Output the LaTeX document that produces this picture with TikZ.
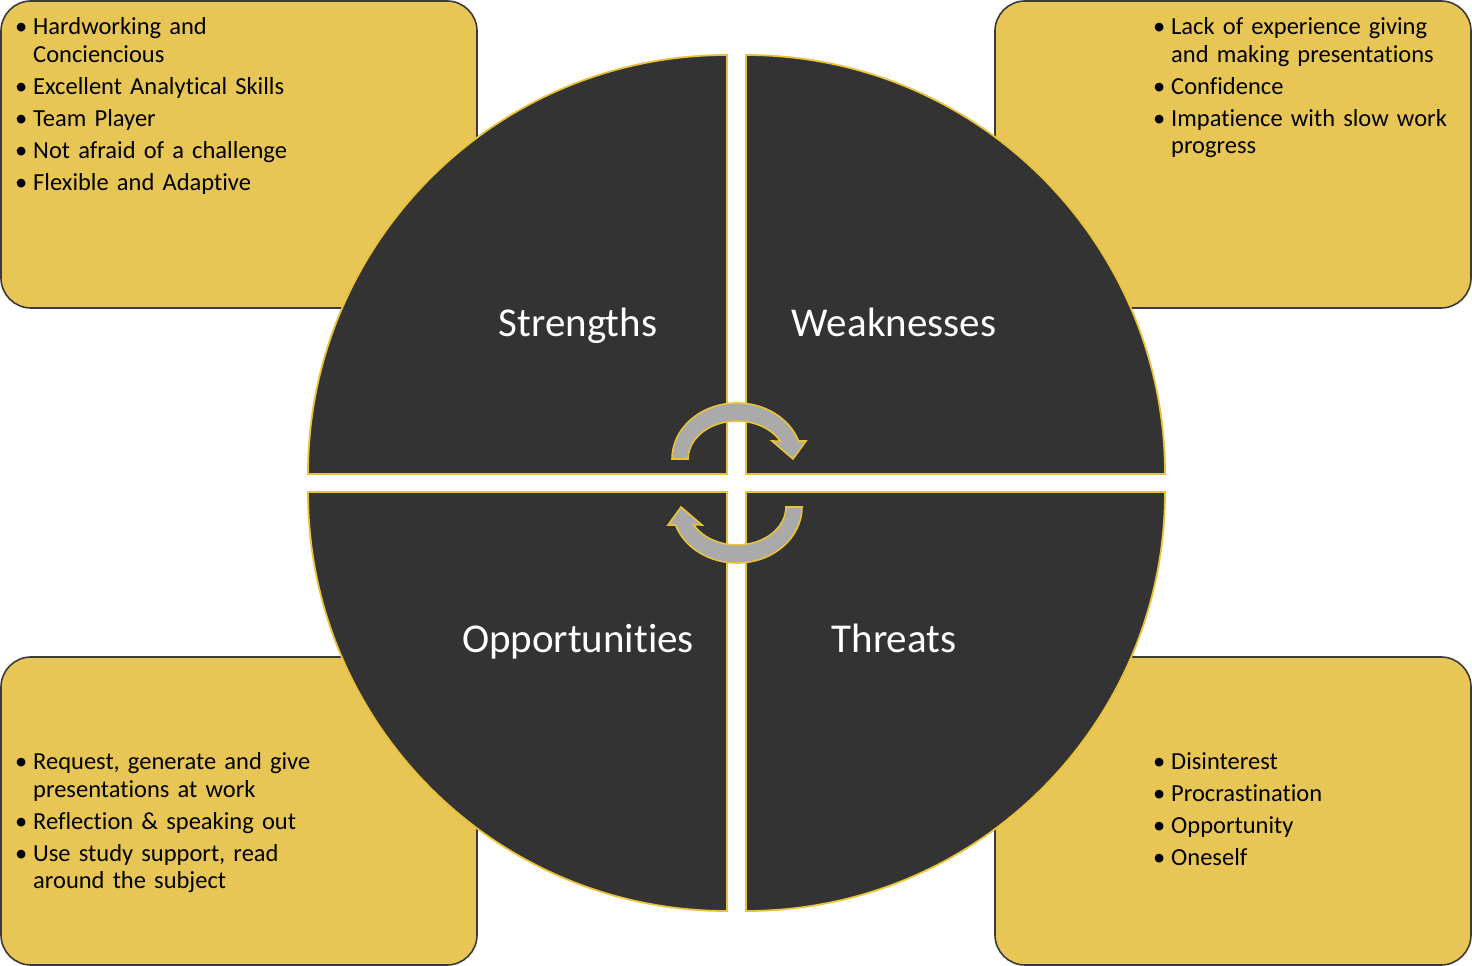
\documentclass[tikz,border=0pt]{standalone}
\usepackage{fontspec}
\setmainfont{Carlito}[Ligatures=NoCommon]
\definecolor{boxyellow}{RGB}{231,198,85}
\definecolor{edgeyellow}{RGB}{233,194,58}
\definecolor{quaddark}{RGB}{51,51,51}
\definecolor{boxedge}{RGB}{58,58,58}
\definecolor{arrowgray}{RGB}{170,170,170}
\newcommand{\bitem}[1]{\noindent\hangindent=18pt\hangafter=1\makebox[18pt][l]{\textbullet}#1\par}
\tikzset{
  infobox/.style={fill=boxyellow, draw=boxedge, line width=1.6pt, rounded corners=30pt},
  quadrant/.style={fill=quaddark, draw=edgeyellow, line width=1.8pt},
  cyclearrow/.style={fill=arrowgray, draw=edgeyellow, line width=1.6pt, line join=miter},
  listtext/.style={anchor=base west, inner sep=0pt, text width=360pt,
    font=\fontsize{24.5}{27.5}\selectfont\setlength{\parskip}{4.5pt}},
  titletext/.style={text=white, inner sep=0pt, anchor=base, font=\fontsize{41}{48}\selectfont}
}
\begin{document}
\begin{tikzpicture}[x=1pt,y=1pt]
\useasboundingbox (0,0) rectangle (1472,966);
% info boxes
\path[infobox] (1,658) rectangle (477,965);
\path[infobox] (995,658) rectangle (1471,965);
\path[infobox] (1,1) rectangle (477,309);
\path[infobox] (995,1) rectangle (1471,309);
% quadrants
\path[quadrant] (727,492) -- (308,492) arc[start angle=180, end angle=90, radius=419] -- cycle;
\path[quadrant] (746,492) -- (746,911) arc[start angle=90, end angle=0, radius=419] -- cycle;
\path[quadrant] (727,474) -- (308,474) arc[start angle=180, end angle=270, radius=419] -- cycle;
\path[quadrant] (746,474) -- (1165,474) arc[start angle=0, end angle=-90, radius=419] -- cycle;
% titles
\node[titletext] (s) at (578,629) {Strengths};
\node[titletext] (w) at (894,629) {Weaknesses};
\node[titletext] (o) at (578,313) {Opportunities};
\node[titletext] (t) at (894,313) {Threats};
% cycle arrows
\path[cyclearrow] (672,507) arc[start angle=180, end angle=18.7, x radius=65, y radius=56]
  -- (806,525) -- (793,507) -- (772,525) -- (780.3,524.8)
  arc[start angle=28, end angle=180, x radius=49, y radius=38] -- cycle;
\begin{scope}[rotate around={180:(737,483)}]
\path[cyclearrow] (672,507) arc[start angle=180, end angle=18.7, x radius=65, y radius=56]
  -- (806,525) -- (793,507) -- (772,525) -- (780.3,524.8)
  arc[start angle=28, end angle=180, x radius=49, y radius=38] -- cycle;
\end{scope}
% lists
\node[listtext] (sl) at (15,931) {\bitem{Hardworking and\newline Conciencious}\bitem{Excellent Analytical Skills}\bitem{Team Player}\bitem{Not afraid of a challenge}\bitem{Flexible and Adaptive}};
\node[listtext] (wl) at (1153,931) {\bitem{Lack of experience giving\newline and making presentations}\bitem{Confidence}\bitem{Impatience with slow work\newline progress}};
\node[listtext] (ol) at (15,196) {\bitem{Request, generate and give\newline presentations at work}\bitem{Reflection \& speaking out}\bitem{Use study support, read\newline around the subject}};
\node[listtext] (tl) at (1153,196) {\bitem{Disinterest}\bitem{Procrastination}\bitem{Opportunity}\bitem{Oneself}};
\end{tikzpicture}
\end{document}
